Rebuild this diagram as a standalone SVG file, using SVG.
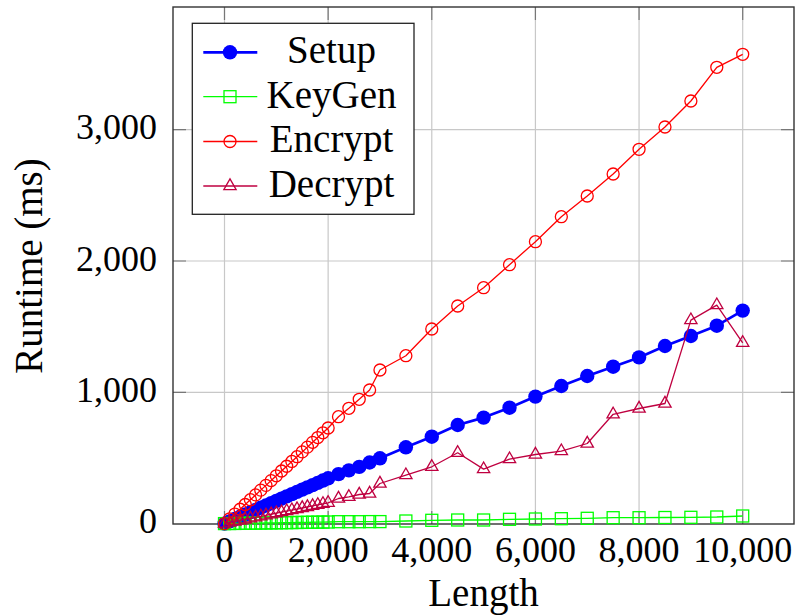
<svg xmlns="http://www.w3.org/2000/svg" width="796" height="615" viewBox="0 0 796 615">
<style>
text{font-family:"Liberation Serif","Times New Roman",serif;fill:#000}
.tick{font-size:36px}
.lbl{font-size:39px}
.grid{stroke:#c8c8c8;stroke-width:1.2;fill:none}
.tk{stroke:#777;stroke-width:1.2;fill:none}
.frame{stroke:#333;stroke-width:1.4;fill:none}
.setup{stroke:#0000ff;stroke-width:2.7;fill:none;stroke-linejoin:round;marker-start:url(#mSetup);marker-mid:url(#mSetup);marker-end:url(#mSetup)}
.keygen{stroke:#00ff00;stroke-width:1.3;fill:none;stroke-linejoin:round;marker-start:url(#mKey);marker-mid:url(#mKey);marker-end:url(#mKey)}
.encrypt{stroke:#ff0000;stroke-width:1.3;fill:none;stroke-linejoin:round;marker-start:url(#mEnc);marker-mid:url(#mEnc);marker-end:url(#mEnc)}
.decrypt{stroke:#bf0040;stroke-width:1.3;fill:none;stroke-linejoin:round;marker-start:url(#mDec);marker-mid:url(#mDec);marker-end:url(#mDec)}
.lg-setup{stroke:#0000ff;stroke-width:2.7;fill:none;marker-mid:url(#mSetup)}
.lg-keygen{stroke:#00ff00;stroke-width:1.3;fill:none;marker-mid:url(#mKey)}
.lg-encrypt{stroke:#ff0000;stroke-width:1.3;fill:none;marker-mid:url(#mEnc)}
.lg-decrypt{stroke:#bf0040;stroke-width:1.3;fill:none;marker-mid:url(#mDec)}
</style>
<defs>
<marker id="mSetup" markerUnits="userSpaceOnUse" markerWidth="20" markerHeight="20" refX="10" refY="10" overflow="visible"><circle cx="10" cy="10" r="7.2" fill="#0000ff"/></marker>
<marker id="mKey" markerUnits="userSpaceOnUse" markerWidth="20" markerHeight="20" refX="10" refY="10" overflow="visible"><rect x="4" y="4" width="12" height="12" fill="none" stroke="#00ff00" stroke-width="1.3"/></marker>
<marker id="mEnc" markerUnits="userSpaceOnUse" markerWidth="20" markerHeight="20" refX="10" refY="10" overflow="visible"><circle cx="10" cy="10" r="6" fill="none" stroke="#ff0000" stroke-width="1.3"/></marker>
<marker id="mDec" markerUnits="userSpaceOnUse" markerWidth="20" markerHeight="20" refX="10" refY="10" overflow="visible"><polygon points="10,2.9 3.85,13.55 16.15,13.55" fill="none" stroke="#bf0040" stroke-width="1.3"/></marker>
</defs>
<rect x="0" y="0" width="796" height="615" fill="#fff"/>
<g id="grid">
<path class="grid" d="M224.5 7V524M328.14 7V524M431.78 7V524M535.42 7V524M639.06 7V524M742.7 7V524M173 392.3H794M173 261H794M173 129.7H794"/>
</g>
<g id="ticks">
<path class="tk" d="M224.5 524v-13M328.14 524v-13M431.78 524v-13M535.42 524v-13M639.06 524v-13M742.7 524v-13M224.5 7v13M328.14 7v13M431.78 7v13M535.42 7v13M639.06 7v13M742.7 7v13M173 392.3h13M173 261h13M173 129.7h13M794 392.3h-13M794 261h-13M794 129.7h-13"/>
</g>
<g id="axis-frame">
<rect class="frame" x="173" y="7" width="621" height="517"/>
</g>
<g id="y-tick-labels" class="tick" text-anchor="end">
<text x="157" y="139">3,000</text>
<text x="157" y="270.5">2,000</text>
<text x="157" y="401.5">1,000</text>
<text x="157" y="533">0</text>
</g>
<g id="x-tick-labels" class="tick" text-anchor="middle">
<text x="224.5" y="562">0</text>
<text x="328.14" y="562">2,000</text>
<text x="431.78" y="562">4,000</text>
<text x="535.42" y="562">6,000</text>
<text x="639.06" y="562">8,000</text>
<text x="742.7" y="562">10,000</text>
</g>
<g id="axis-labels" class="lbl" text-anchor="middle">
<text x="483.5" y="606">Length</text>
<text transform="translate(41.5,266) rotate(-90)">Runtime (ms)</text>
</g>
<g id="series-setup">
<polyline class="setup" points="224.5,523.6 229.68,521.33 234.86,519.07 240.05,516.8 245.23,514.54 250.41,512.27 255.59,510.01 260.77,507.74 265.96,505.48 271.14,503.21 276.32,500.95 281.5,498.68 286.68,496.42 291.87,494.15 297.05,491.89 302.23,489.62 307.41,487.36 312.59,485.09 317.78,482.83 322.96,480.56 328.14,478.3 338.5,474.1 348.87,470.4 359.23,466.9 369.6,462.5 379.96,458.3 405.87,447.3 431.78,436.7 457.69,425 483.6,417.6 509.51,407.7 535.42,396.6 561.33,386 587.24,376 613.15,366.7 639.06,357.4 664.97,346 690.88,336 716.79,325.7 742.7,310.6"/>
</g>
<g id="series-keygen">
<polyline class="keygen" points="224.5,523.6 229.68,523.52 234.86,523.44 240.05,523.36 245.23,523.28 250.41,523.2 255.59,523.12 260.77,523.04 265.96,522.96 271.14,522.88 276.32,522.8 281.5,522.72 286.68,522.64 291.87,522.56 297.05,522.48 302.23,522.4 307.41,522.32 312.59,522.24 317.78,522.16 322.96,522.08 328.14,522 338.5,521.7 348.87,521.7 359.23,521.7 369.6,521.6 379.96,521.6 405.87,521 431.78,520.3 457.69,520 483.6,520 509.51,519.3 535.42,519 561.33,518.7 587.24,518.3 613.15,517.7 639.06,517.7 664.97,517.5 690.88,517.3 716.79,517 742.7,516"/>
</g>
<g id="series-encrypt">
<polyline class="encrypt" points="224.5,523.6 229.68,518.82 234.86,514.04 240.05,509.26 245.23,504.48 250.41,499.7 255.59,494.92 260.77,490.14 265.96,485.36 271.14,480.58 276.32,475.8 281.5,471.02 286.68,466.24 291.87,461.46 297.05,456.68 302.23,451.9 307.41,447.12 312.59,442.34 317.78,437.56 322.96,432.78 328.14,428 338.5,416.7 348.87,408.3 359.23,399.3 369.6,390 379.96,370 405.87,355.7 431.78,329 457.69,306 483.6,287.7 509.51,264.7 535.42,241.7 561.33,216.7 587.24,196 613.15,174 639.06,149.3 664.97,127 690.88,101 716.79,67.3 742.7,54.3"/>
</g>
<g id="series-decrypt">
<polyline class="decrypt" points="224.5,523.6 229.68,522.56 234.86,521.52 240.05,520.48 245.23,519.44 250.41,518.4 255.59,517.36 260.77,516.32 265.96,515.28 271.14,514.24 276.32,513.2 281.5,512.16 286.68,511.12 291.87,510.08 297.05,509.04 302.23,508 307.41,506.96 312.59,505.92 317.78,504.88 322.96,503.84 328.14,502.8 338.5,498.5 348.87,496.8 359.23,494.5 369.6,493.5 379.96,483.5 405.87,475.1 431.78,466.8 457.69,452.8 483.6,469.1 509.51,459.1 535.42,454.5 561.33,451.1 587.24,443.5 613.15,414.3 639.06,408.5 664.97,403.5 690.88,320.1 716.79,305.1 742.7,342.8"/>
</g>
<g id="legend">
<rect x="192.3" y="23.3" width="221.7" height="191" fill="#fff" stroke="#222" stroke-width="1.3"/>
<path class="lg-setup" d="M203.3 52.3H230H257.3"/>
<path class="lg-keygen" d="M203.3 96.7H230H257.3"/>
<path class="lg-encrypt" d="M203.3 141.5H230H257.3"/>
<path class="lg-decrypt" d="M203.3 186H230H257.3"/>
<g class="lbl" text-anchor="middle">
<text x="331.5" y="63.3">Setup</text>
<text x="331.5" y="107.5">KeyGen</text>
<text x="331.5" y="152">Encrypt</text>
<text x="331.5" y="196.5">Decrypt</text>
</g>
</g>
</svg>
